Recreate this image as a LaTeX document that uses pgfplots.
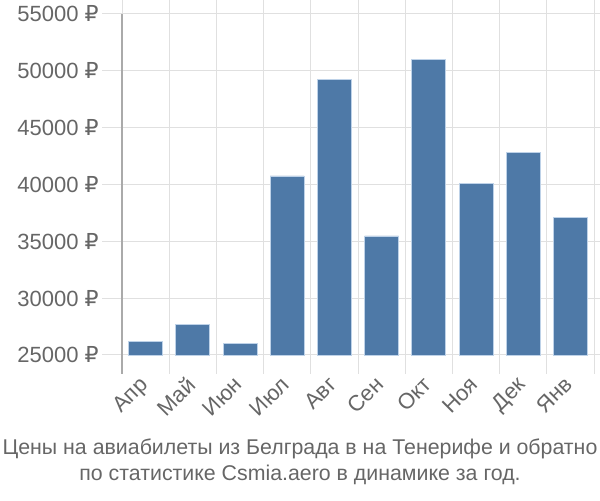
\documentclass[border=0pt]{standalone}
\usepackage{fontspec}
\setmainfont{Liberation Sans}
\newfontfamily\dejavu{DejaVu Sans}
\usepackage{pgfplots}
\pgfplotsset{compat=1.18}
\definecolor{txt}{RGB}{102,102,102}
\definecolor{gridc}{RGB}{224,224,224}
\definecolor{axc}{RGB}{170,170,170}
\definecolor{barc}{RGB}{78,121,167}
\definecolor{bare}{RGB}{190,210,232}
\newcommand{\rub}{{\dejavu ₽}}
\begin{document}
\begin{tikzpicture}[x=1pt,y=1pt]
\path[use as bounding box] (0,0) rectangle (450,375);
\begin{axis}[
  at={(91.5pt,108.75pt)}, anchor=south west,
  scale only axis, width=354pt, height=255.75pt,
  xmin=-0.5, xmax=9.5, ymin=25000, ymax=55000,
  xtick={0,...,9},
  xticklabels={Апр,Май,Июн,Июл,Авг,Сен,Окт,Ноя,Дек,Янв},
  minor xtick={-0.5,0.5,...,9.5},
  minor x grid style={gridc, line width=0.75pt},
  xminorgrids=true,
  ytick={25000,30000,...,55000},
  yticklabels={25000 \rub,30000 \rub,35000 \rub,40000 \rub,45000 \rub,50000 \rub,55000 \rub},
  scaled y ticks=false,
  ymajorgrids=true,
  y grid style={gridc, line width=0.75pt},
  tick align=outside,
  major x tick style={draw=none},
  minor x tick style={gridc, line width=0.75pt},
  minor tick length=14pt,
  major tick length=15pt,
  y tick style={gridc, line width=0.75pt},
  axis line style={draw=none},
  tick label style={font=\fontsize{16.5}{19}\selectfont, text=txt},
  yticklabel style={xshift=1pt},
  xticklabel style={rotate=45, anchor=north east, yshift=7.2pt, xshift=-0.6pt},
  ybar, bar width=25.5pt,
  clip=false,
]
\addplot[fill=barc, draw=bare, line width=0.5pt] coordinates {
(0,26230) (1,27670) (2,26030) (3,40760) (4,49210)
(5,35480) (6,51030) (7,40080) (8,42840) (9,37120)};
\draw[axc, line width=0.9pt] (axis cs:-0.5,55000) -- (axis cs:-0.5,25000) -- ([yshift=-14pt]axis cs:-0.5,25000);
\end{axis}
\node[text=txt, font=\fontsize{16}{19.5}\selectfont, align=center] at (225,29) {Цены на авиабилеты из Белграда в на Тенерифе и обратно\\по статистике Csmia.aero в динамике за год.};
\end{tikzpicture}
\end{document}
